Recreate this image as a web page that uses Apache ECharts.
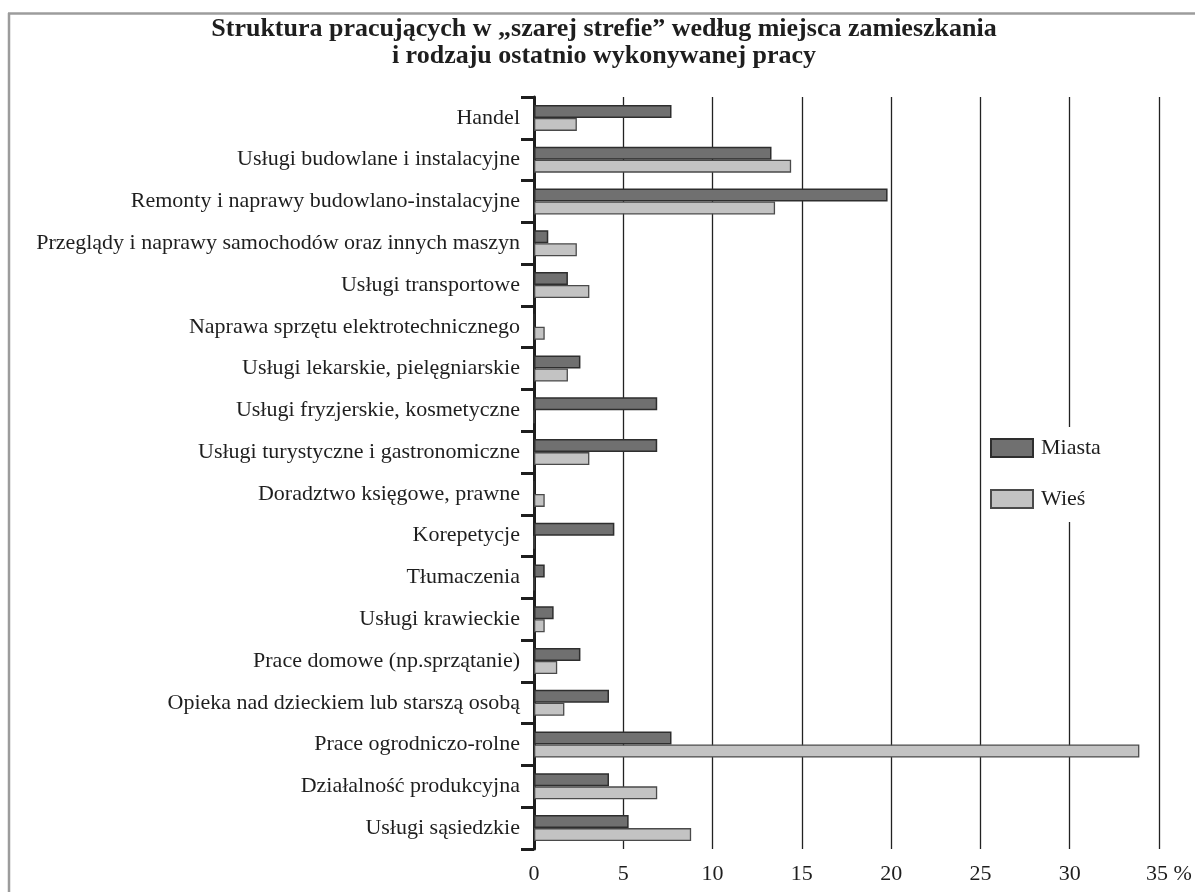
<!DOCTYPE html>
<html>
<head>
<meta charset="utf-8">
<script src="https://cdn.jsdelivr.net/npm/echarts@6/dist/echarts.min.js"></script>
<style>
  html, body { margin: 0; padding: 0; background: #fff; }
  #chart { width: 1195px; height: 892px; }
</style>
</head>
<body>
<div id="chart"></div>
<script>
const categories = [
  'Handel',
  'Usługi budowlane i instalacyjne',
  'Remonty i naprawy budowlano-instalacyjne',
  'Przeglądy i naprawy samochodów oraz innych maszyn',
  'Usługi transportowe',
  'Naprawa sprzętu elektrotechnicznego',
  'Usługi lekarskie, pielęgniarskie',
  'Usługi fryzjerskie, kosmetyczne',
  'Usługi turystyczne i gastronomiczne',
  'Doradztwo księgowe, prawne',
  'Korepetycje',
  'Tłumaczenia',
  'Usługi krawieckie',
  'Prace domowe (np.sprzątanie)',
  'Opieka nad dzieckiem lub starszą osobą',
  'Prace ogrodniczo-rolne',
  'Działalność produkcyjna',
  'Usługi sąsiedzkie'
];
const miasta = [7.7, 13.3, 19.8, 0.8, 1.9, 0, 2.6, 6.9, 6.9, 0, 4.5, 0.6, 1.1, 2.6, 4.2, 7.7, 4.2, 5.3];
const wies   = [2.4, 14.4, 13.5, 2.4, 3.1, 0.6, 1.9, 0, 3.1, 0.6, 0, 0, 0.6, 1.3, 1.7, 33.9, 6.9, 8.8];
const xTicks = [0, 5, 10, 15, 20, 25, 30, 35];
const titleText = 'Struktura pracujących w „szarej strefie” według miejsca zamieszkania\ni rodzaju ostatnio wykonywanej pracy';

const FONT = '"Liberation Serif", "Times New Roman", serif';
const chart = echarts.init(document.getElementById('chart'));
chart.setOption({
  animation: false,
  backgroundColor: '#fff',
  textStyle: { fontFamily: FONT },
  title: {
    text: titleText,
    left: 599,
    textAlign: 'center',
    top: 11,
    textStyle: { fontFamily: FONT, fontWeight: 'bold', fontSize: 26, lineHeight: 27, color: '#1e1e1e' }
  },
  graphic: [
    { type: 'line', shape: { x1: 8, y1: 13.5, x2: 1195, y2: 13.5 }, style: { stroke: '#9c9c9c', lineWidth: 2.5 } },
    { type: 'line', shape: { x1: 9, y1: 13, x2: 9, y2: 892 }, style: { stroke: '#9c9c9c', lineWidth: 2.5 } }
  ],
  legend: {
    orient: 'vertical',
    left: 985,
    top: 427,
    padding: [10, 12, 12, 5],
    itemGap: 29,
    itemWidth: 42,
    itemHeight: 18,
    icon: 'rect',
    backgroundColor: '#fff',
    textStyle: { fontFamily: FONT, fontSize: 22, color: '#1e1e1e', padding: [0, 0, 0, 3] },
    data: ['Miasta', 'Wieś']
  },
  grid: { left: 534, top: 97, width: 625, height: 752, containLabel: false },
  xAxis: {
    type: 'value',
    min: 0, max: 35, interval: 5,
    axisLine: { show: false },
    axisTick: { show: false },
    splitLine: { show: true, lineStyle: { color: '#222', width: 1.3 } },
    axisLabel: {
      margin: 14,
      fontFamily: FONT, fontSize: 22, color: '#1e1e1e',
      formatter: function (v) { return v === 35 ? '{a|35}{p| %}' : String(v); },
      rich: {
        a: { fontFamily: FONT, fontSize: 22, color: '#1e1e1e', padding: [0, 0, 0, 20] },
        p: { fontFamily: FONT, fontSize: 22, color: '#1e1e1e' }
      }
    }
  },
  yAxis: {
    type: 'category',
    inverse: true,
    data: categories,
    axisLine: { show: true, lineStyle: { color: '#1e1e1e', width: 3 } },
    axisTick: { show: true, length: 13, lineStyle: { color: '#1e1e1e', width: 3 } },
    splitLine: { show: false },
    axisLabel: { margin: 14, fontFamily: FONT, fontSize: 22, color: '#1e1e1e' }
  },
  series: [
    {
      name: 'Miasta', type: 'bar', data: miasta,
      barWidth: 13, barGap: '0%',
      itemStyle: { color: '#707070', borderColor: '#2e2e2e', borderWidth: 1.5 }
    },
    {
      name: 'Wieś', type: 'bar', data: wies,
      barWidth: 13, barGap: '0%',
      itemStyle: { color: '#c3c3c3', borderColor: '#4a4a4a', borderWidth: 1.3 }
    }
  ]
});
</script>
</body>
</html>
